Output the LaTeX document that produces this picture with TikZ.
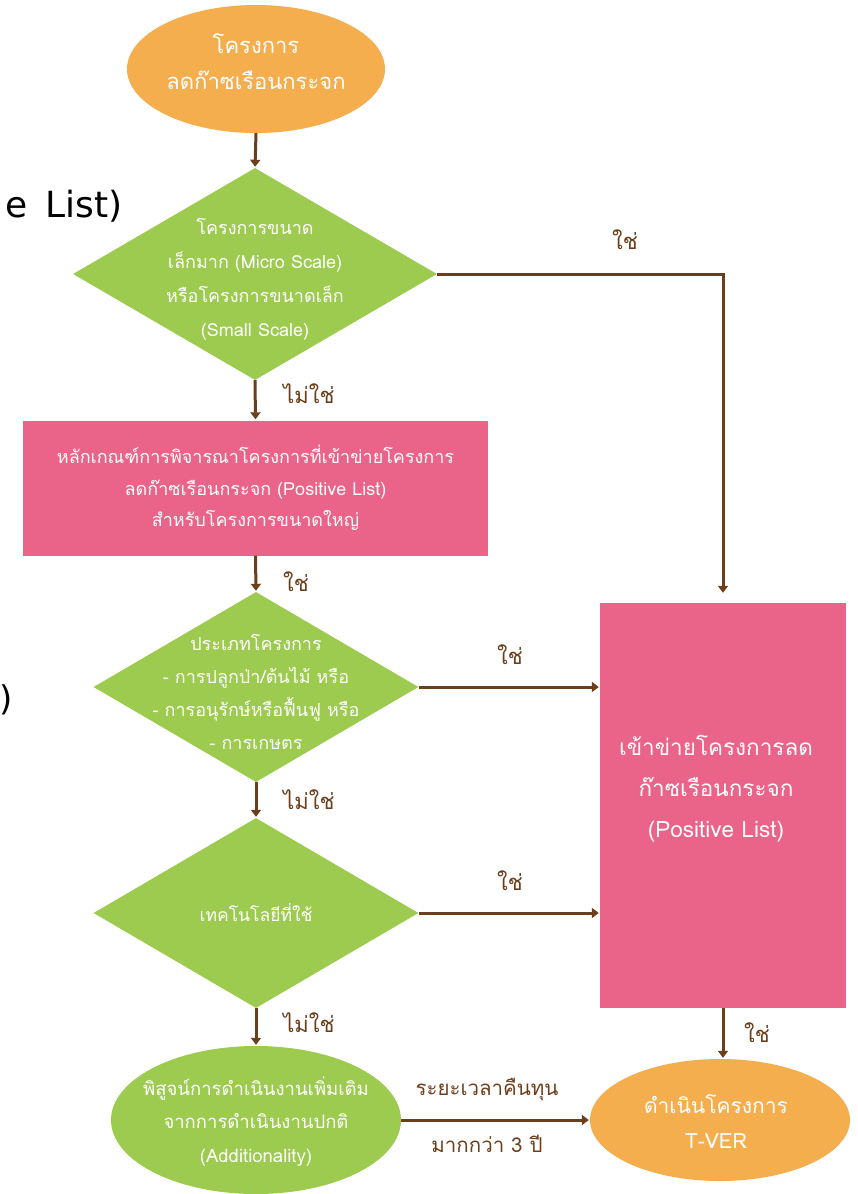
\documentclass[tikz,border=0pt]{standalone}
\usepackage{fontspec}
\newfontfamily\thai[Script=Thai]{Loma}
\newfontfamily\latinsans{DejaVu Sans}
\usetikzlibrary{shapes.geometric,arrows.meta}
\definecolor{orng}{HTML}{F5AE4E}
\definecolor{grn}{HTML}{9CCB4F}
\definecolor{pnk}{HTML}{E96488}
\definecolor{brn}{HTML}{6B3F1C}
\tikzset{
  startend/.style={ellipse, fill=orng, draw=none, inner sep=0pt},
  greenell/.style={ellipse, fill=grn, draw=none, inner sep=0pt},
  decision/.style={diamond, fill=grn, draw=none, inner sep=0pt},
  pinkbox/.style={rectangle, fill=pnk, draw=none, inner sep=0pt},
  intext/.style={text=white, align=center, inner sep=0pt},
  lbl/.style={text=brn, inner sep=0pt, font=\thai\fontsize{22}{26}\selectfont},
  conn/.style={draw=brn, line width=3pt, -{Triangle[width=10pt,length=7pt]}, shorten >=1pt},
  cutoff/.style={text=black, inner sep=0pt, font=\latinsans\fontsize{36}{40}\selectfont}
}
\begin{document}
\begin{tikzpicture}[x=1pt,y=-1pt]
\useasboundingbox (0,0) rectangle (858,1194);
\clip (0,0) rectangle (858,1194);

% partial texts at the left edge
\node[cutoff, anchor=base east] (cutA) at (123,217) {e\kern7pt\ List)};
\node[cutoff, anchor=base east, font=\latinsans\fontsize{34}{40}\selectfont] (cutB) at (13,710) {)};

% shapes
\node[startend, minimum width=258pt, minimum height=128pt] (start) at (256,69) {};
\node[decision, minimum width=364pt, minimum height=212pt] (d1) at (255,274) {};
\node[pinkbox, minimum width=465pt, minimum height=135pt] (crit) at (255.5,488) {};
\node[decision, minimum width=325pt, minimum height=190pt] (d2) at (256,687) {};
\node[decision, minimum width=325pt, minimum height=190pt] (d3) at (256,913) {};
\node[greenell, minimum width=290pt, minimum height=148pt] (add) at (256,1120) {};
\node[pinkbox, minimum width=246pt, minimum height=405pt] (pos) at (723,805.5) {};
\node[startend, minimum width=260pt, minimum height=122pt] (tver) at (720,1120) {};

% texts inside shapes
\node[intext, font=\thai\fontsize{22}{36}\selectfont] (tstart) at (256,62) {โครงการ\\ลดก๊าซเรือนกระจก};
\node[intext, font=\thai\fontsize{18}{34}\selectfont] (td1) at (255,279) {โครงการขนาด\\เล็กมาก (Micro Scale)\\หรือโครงการขนาดเล็ก\\(Small Scale)};
\node[intext, font=\thai\fontsize{18}{31.5}\selectfont] (tcrit) at (255.5,488) {หลักเกณฑ์การพิจารณาโครงการที่เข้าข่ายโครงการ\\ลดก๊าซเรือนกระจก (Positive List)\\สำหรับโครงการขนาดใหญ่};
\node[intext, font=\thai\fontsize{18}{33}\selectfont] (td2) at (256,692) {ประเภทโครงการ\\- การปลูกป่า/ต้นไม้ หรือ\\- การอนุรักษ์หรือฟื้นฟู หรือ\\- การเกษตร};
\node[intext, font=\thai\fontsize{17.5}{33}\selectfont] (td3) at (256,913) {เทคโนโลยีที่ใช้};
\node[intext, font=\thai\fontsize{18.5}{33.5}\selectfont] (tadd) at (256,1121) {พิสูจน์การดำเนินงานเพิ่มเติม\\จากการดำเนินงานปกติ\\(Additionality)};
\node[intext, font=\thai\fontsize{22.5}{41}\selectfont] (tpos) at (716,789) {เข้าข่ายโครงการลด\\ก๊าซเรือนกระจก\\(Positive List)};
\node[intext, font=\thai\fontsize{21}{35}\selectfont] (ttver) at (716,1122) {ดำเนินโครงการ\\T-VER};

% connectors
\draw[conn] (start.south) -- (d1.north);
\draw[conn] (d1.south) -- (crit.north);
\draw[conn] (crit.south) -- (d2.north);
\draw[conn] (d2.south) -- (d3.north);
\draw[conn] (d3.south) -- (add.north);
\draw[conn, shorten >=10pt] (d1.east) -| (pos.north);
\draw[conn] (d2.east) -- (d2.east -| pos.west);
\draw[conn] (d3.east) -- (d3.east -| pos.west);
\draw[conn] (pos.south) -- (pos.south |- tver.north);
\draw[conn] (add.east) -- (tver.west);

% connector labels
\node[lbl] (l1) at (625,240) {ใช่};
\node[lbl] (l2) at (309,394) {ไม่ใช่};
\node[lbl] (l3) at (296,582) {ใช่};
\node[lbl] (l4) at (510,655) {ใช่};
\node[lbl] (l5) at (309,800) {ไม่ใช่};
\node[lbl] (l6) at (510,881) {ใช่};
\node[lbl] (l7) at (309,1023) {ไม่ใช่};
\node[lbl] (l8) at (757,1033) {ใช่};
\node[lbl, font=\thai\fontsize{20.5}{26}\selectfont] (l9) at (487,1090) {ระยะเวลาคืนทุน};
\node[lbl, font=\thai\fontsize{20.5}{26}\selectfont] (l10) at (487,1144) {มากกว่า 3 ปี};
\end{tikzpicture}
\end{document}
